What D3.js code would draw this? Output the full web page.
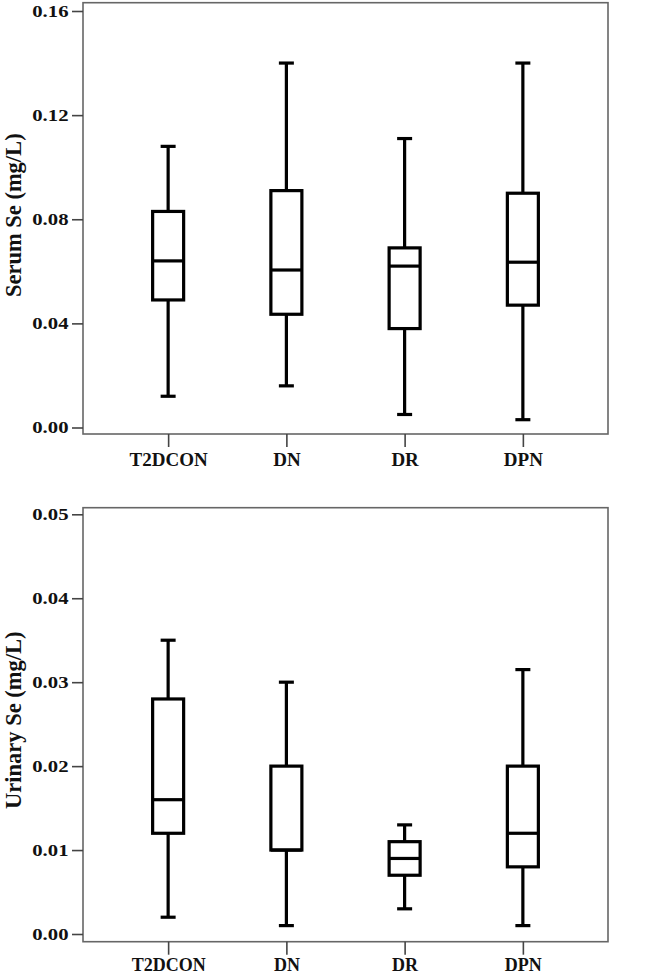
<!DOCTYPE html>
<html><head><meta charset="utf-8">
<script src="https://cdn.jsdelivr.net/npm/d3@7"></script>
<style>body{margin:0;background:#fff}svg{display:block}</style>
</head><body><svg id="c" width="659" height="976"></svg>
<script>
const categories = ["T2DCON", "DN", "DR", "DPN"];

const serumWhiskerLow  = [0.012, 0.016, 0.005, 0.003];
const serumQ1          = [0.049, 0.0435, 0.038, 0.047];
const serumMedian      = [0.064, 0.0605, 0.062, 0.0635];
const serumQ3          = [0.083, 0.091, 0.069, 0.090];
const serumWhiskerHigh = [0.108, 0.140, 0.111, 0.140];
const serumTicks = [0, 0.04, 0.08, 0.12, 0.16];

const urineWhiskerLow  = [0.002, 0.001, 0.003, 0.001];
const urineQ1          = [0.012, 0.010, 0.007, 0.008];
const urineMedian      = [0.016, 0.010, 0.009, 0.012];
const urineQ3          = [0.028, 0.020, 0.011, 0.020];
const urineWhiskerHigh = [0.035, 0.030, 0.013, 0.0315];
const urineTicks = [0, 0.01, 0.02, 0.03, 0.04, 0.05];

const svg = d3.select("#c");
const FONT = "'Liberation Serif','Times New Roman',serif";
const left = 83, right = 608;

function panel(cfg) {
  const g = svg.append("g");
  const x = d3.scalePoint().domain(categories).range([left, right]).padding(0.72);
  const y = d3.scaleLinear().domain([0, cfg.max]).range([cfg.y0, cfg.y1]);

  // frame
  g.append("rect").attr("x", left).attr("y", cfg.top)
    .attr("width", right - left).attr("height", cfg.bottom - cfg.top)
    .attr("fill", "none").attr("stroke", "#666").attr("stroke-width", 1.6);

  const ya = g.append("g").attr("transform", `translate(${left},0)`)
    .call(d3.axisLeft(y).tickValues(cfg.ticks).tickFormat(d3.format(".2f")).tickSize(11).tickPadding(3));
  ya.select(".domain").remove();
  ya.selectAll("line").attr("stroke", "#444").attr("stroke-width", 1.6);
  ya.selectAll("text").attr("font-family", FONT).attr("font-weight", "bold")
    .attr("font-size", 17).attr("fill", "#111")
    .attr("x", 0).attr("transform", "translate(-14.5,0) scale(1.22,1)");

  const xa = g.append("g").attr("transform", `translate(0,${cfg.bottom})`)
    .call(d3.axisBottom(x).tickSize(13).tickPadding(cfg.xPad));
  xa.select(".domain").remove();
  xa.selectAll("line").attr("stroke", "#444").attr("stroke-width", 1.6);
  xa.selectAll("text").attr("font-family", FONT).attr("font-weight", "bold")
    .attr("font-size", cfg.xFont).attr("fill", "#111");

  g.append("text")
    .attr("transform", `translate(13,${(cfg.y0 + cfg.y1) / 2 - 4}) rotate(-90)`)
    .attr("text-anchor", "middle").attr("dominant-baseline", "central")
    .attr("font-family", FONT).attr("font-weight", "bold").attr("font-size", 22.5)
    .attr("fill", "#111").text(cfg.title);

  const rows = categories.map((c, i) => ({
    c, lo: cfg.lo[i], q1: cfg.q1[i], med: cfg.med[i], q3: cfg.q3[i], hi: cfg.hi[i]
  }));
  const bw = 31, cw = 15;
  const box = g.selectAll("g.box").data(rows).join("g").attr("class", "box")
    .attr("fill", "none").attr("stroke", "#000").attr("stroke-width", 3.2);
  box.append("line").attr("x1", d => x(d.c)).attr("x2", d => x(d.c))
    .attr("y1", d => y(d.hi)).attr("y2", d => y(d.q3));
  box.append("line").attr("x1", d => x(d.c)).attr("x2", d => x(d.c))
    .attr("y1", d => y(d.q1)).attr("y2", d => y(d.lo));
  box.append("line").attr("x1", d => x(d.c) - cw / 2).attr("x2", d => x(d.c) + cw / 2)
    .attr("y1", d => y(d.hi)).attr("y2", d => y(d.hi));
  box.append("line").attr("x1", d => x(d.c) - cw / 2).attr("x2", d => x(d.c) + cw / 2)
    .attr("y1", d => y(d.lo)).attr("y2", d => y(d.lo));
  box.append("rect").attr("x", d => x(d.c) - bw / 2).attr("width", bw)
    .attr("y", d => y(d.q3)).attr("height", d => y(d.q1) - y(d.q3)).attr("fill", "#fff");
  box.append("line").attr("x1", d => x(d.c) - bw / 2).attr("x2", d => x(d.c) + bw / 2)
    .attr("y1", d => y(d.med)).attr("y2", d => y(d.med));
}

panel({ top: 2.7, bottom: 434, y0: 427.5, y1: 11, max: 0.16, ticks: serumTicks,
  xPad: 6, xFont: 19,
  title: "Serum Se (mg/L)", lo: serumWhiskerLow, q1: serumQ1, med: serumMedian,
  q3: serumQ3, hi: serumWhiskerHigh });
panel({ top: 507.7, bottom: 941.7, y0: 934, y1: 514.3, max: 0.05, ticks: urineTicks,
  xPad: 3.5, xFont: 18,
  title: "Urinary Se (mg/L)", lo: urineWhiskerLow, q1: urineQ1, med: urineMedian,
  q3: urineQ3, hi: urineWhiskerHigh });
</script>
</body></html>
